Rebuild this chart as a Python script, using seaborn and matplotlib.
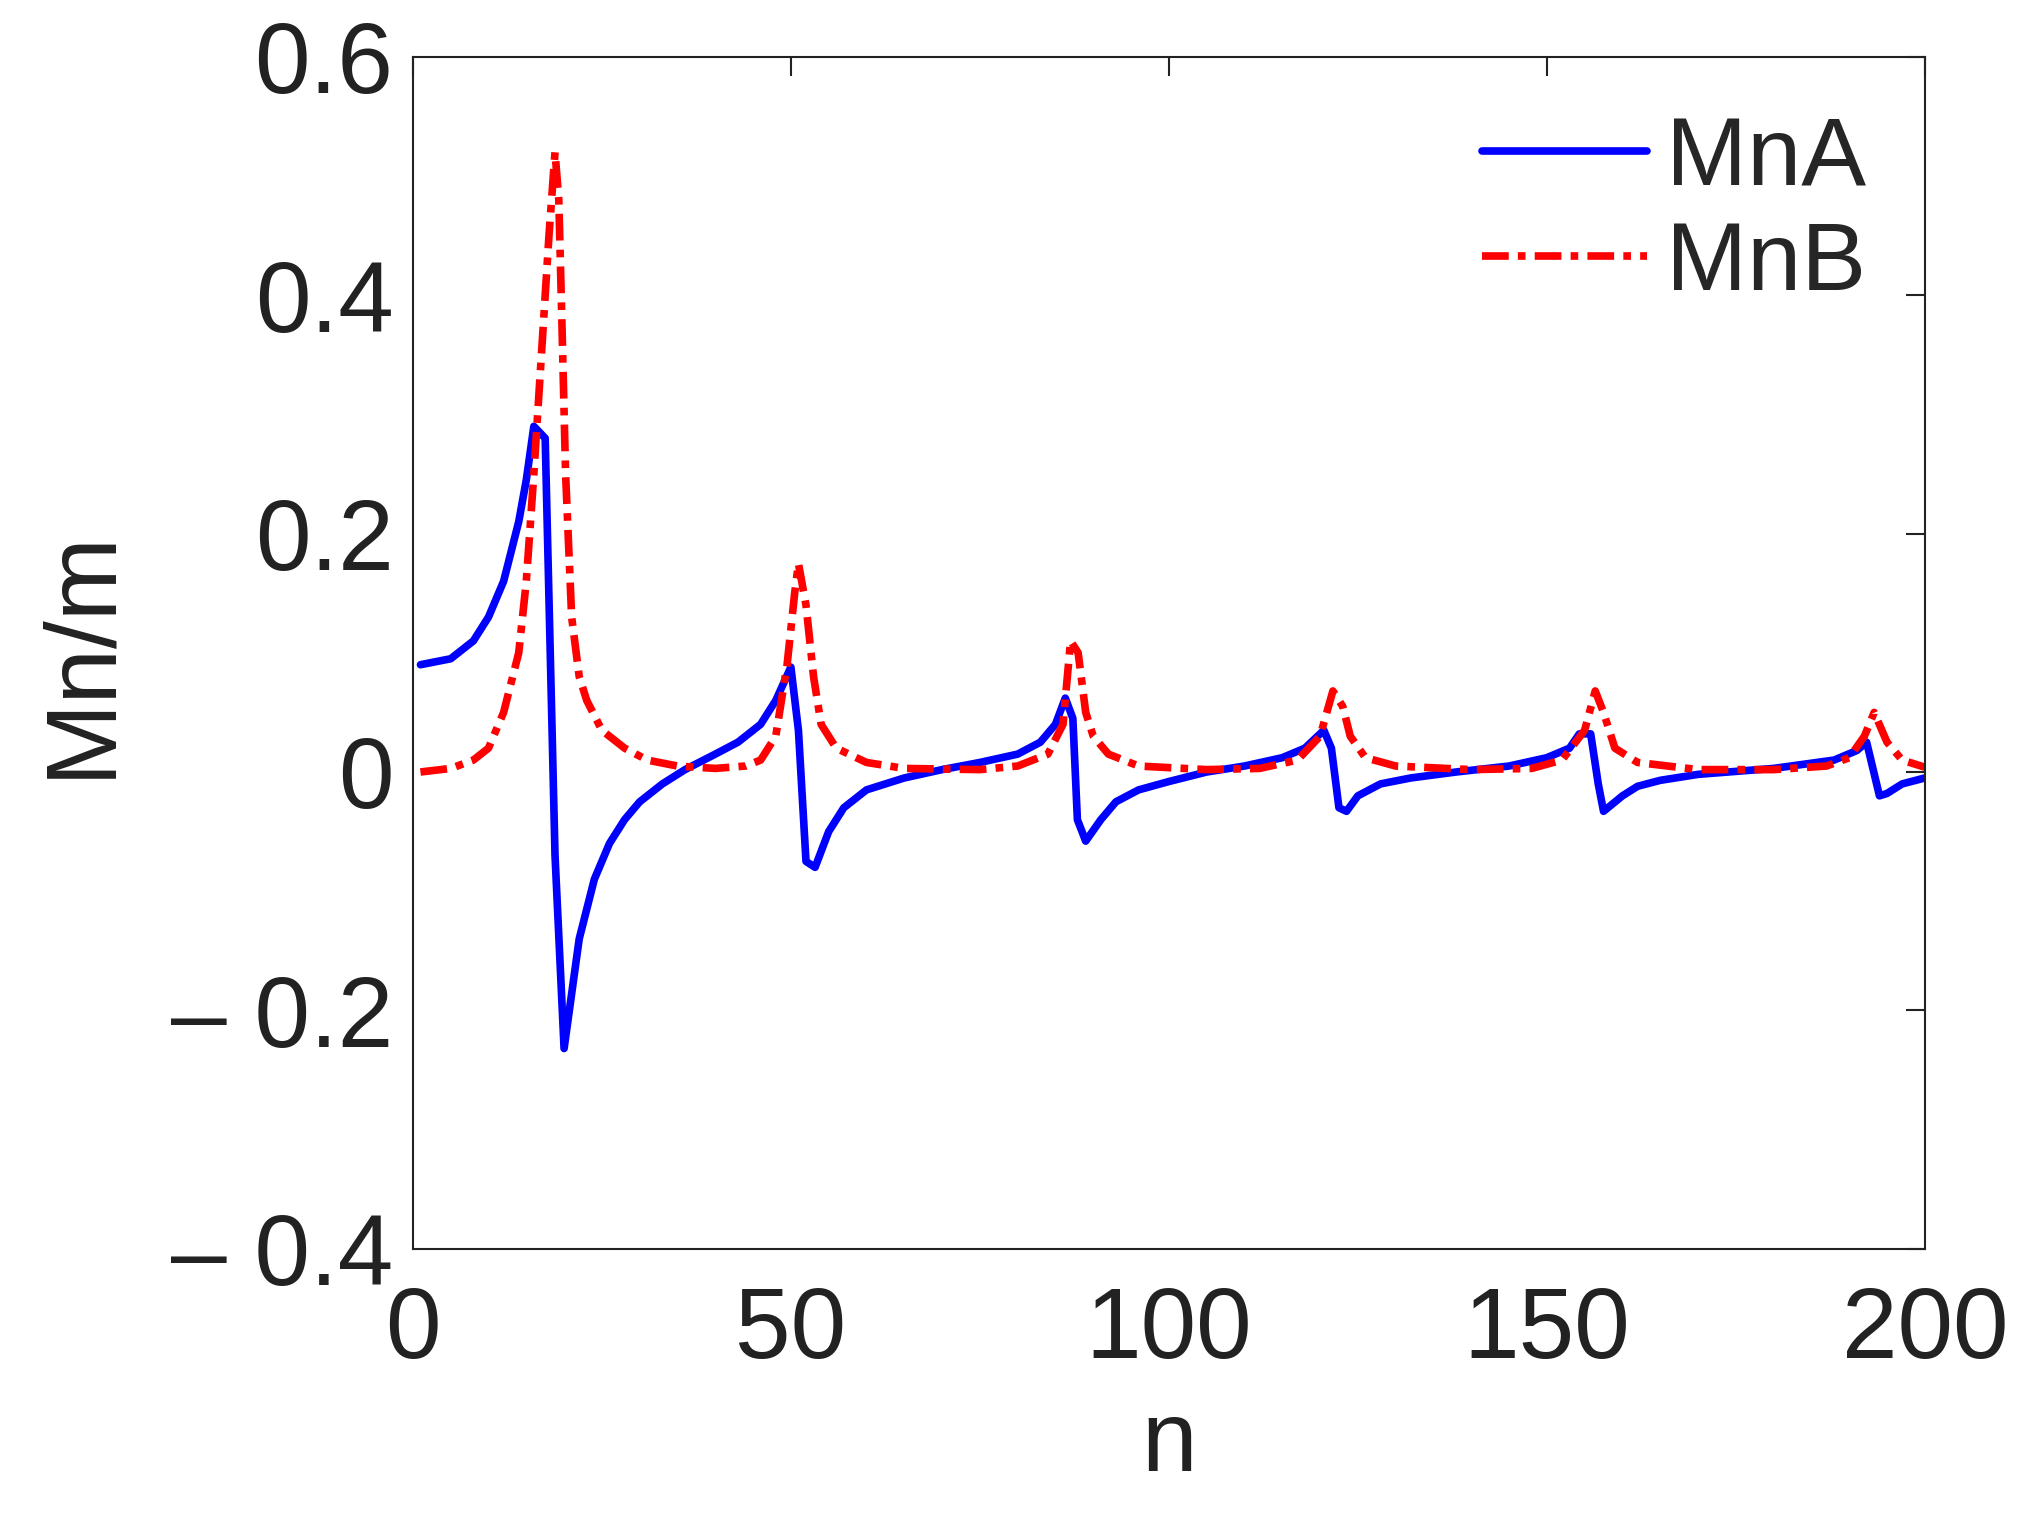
import numpy as np
import pandas as pd
import seaborn as sns
import matplotlib.pyplot as plt

# MnA (blue, solid)
n_a = [1, 5, 8, 10, 12, 14, 15, 16, 17.5, 18.8, 20, 22, 24, 26, 28, 30, 33, 36, 40, 43, 46, 48,
       50, 51, 52, 53.2, 55, 57, 60, 65, 70, 75, 80, 83, 85, 86.3, 87.3, 87.9, 89, 91, 93, 96,
       100, 105, 110, 115, 118, 120.5, 121.5, 122.5, 123.5, 125, 128, 132, 138, 145, 150, 153,
       154.3, 155.8, 156.8, 157.5, 160, 162, 165, 170, 180, 188, 191, 192.3, 194, 195, 197, 200]
mn_a = [0.09, 0.095, 0.11, 0.13, 0.16, 0.21, 0.245, 0.29, 0.28, -0.07, -0.232, -0.14, -0.09,
        -0.06, -0.04, -0.025, -0.01, 0.002, 0.015, 0.025, 0.04, 0.06, 0.088, 0.035, -0.075,
        -0.08, -0.05, -0.03, -0.015, -0.005, 0.002, 0.008, 0.015, 0.025, 0.04, 0.062, 0.045,
        -0.04, -0.058, -0.04, -0.025, -0.015, -0.008, 0.0, 0.005, 0.012, 0.02, 0.035, 0.02,
        -0.03, -0.033, -0.02, -0.01, -0.005, 0.0, 0.005, 0.012, 0.02, 0.032, 0.032, -0.01,
        -0.033, -0.02, -0.012, -0.007, -0.002, 0.003, 0.01, 0.018, 0.025, -0.02, -0.018, -0.01,
        -0.005]

# MnB (red, dash-dot)
n_b = [1, 5, 8, 10, 12, 14, 15, 16, 17, 18, 18.8, 19.3, 19.7, 20.2, 21, 22, 23, 25, 28, 31, 35,
       40, 44, 46, 48, 49.5, 50.5, 51, 52, 53, 54, 56, 60, 65, 75, 80, 84, 86, 87, 88, 89, 90,
       92, 96, 105, 112, 117, 120, 121.7, 123, 124, 126, 130, 140, 148, 152, 155, 156.4, 157.5,
       159, 162, 170, 180, 187, 190, 192, 193.3, 195, 197, 200]
mn_b = [0.0, 0.003, 0.01, 0.02, 0.05, 0.1, 0.16, 0.25, 0.35, 0.45, 0.52, 0.48, 0.38, 0.25, 0.13,
        0.08, 0.06, 0.035, 0.02, 0.01, 0.005, 0.003, 0.005, 0.01, 0.03, 0.09, 0.15, 0.175, 0.14,
        0.08, 0.04, 0.02, 0.008, 0.003, 0.002, 0.005, 0.015, 0.04, 0.11, 0.1, 0.05, 0.03, 0.015,
        0.005, 0.002, 0.003, 0.01, 0.03, 0.068, 0.055, 0.03, 0.012, 0.005, 0.002, 0.003, 0.01,
        0.035, 0.068, 0.05, 0.02, 0.008, 0.002, 0.002, 0.005, 0.012, 0.03, 0.05, 0.025, 0.01,
        0.004]

sns.set_style("white")
plt.rcParams['font.family'] = ['Liberation Sans', 'DejaVu Sans']

fig = plt.figure(figsize=(20.24, 15.36), dpi=100)
ax = fig.add_axes([0.204, 0.187, 0.747, 0.776])

sns.lineplot(x=n_a, y=mn_a, ax=ax, color='#0000ff', lw=5.5, label='MnA')
sns.lineplot(x=n_b, y=mn_b, ax=ax, color='#ff0000', lw=5.5, label='MnB')
ax.lines[1].set_dashes([3.5, 1.2, 1, 1.2])

ax.set_xlim(0, 200)
ax.set_ylim(-0.4, 0.6)
ax.set_xticks([0, 50, 100, 150, 200])
ax.set_yticks([-0.4, -0.2, 0, 0.2, 0.4, 0.6])
ax.set_yticklabels(['\u2013 0.4', '\u2013 0.2', '0', '0.2', '0.4', '0.6'])
ax.tick_params(direction='in', length=14, width=1.5, labelsize=72, colors='#222222',
               top=True, right=True, pad=14)
ax.tick_params(axis='x', pad=26)
for s in ax.spines.values():
    s.set_color('#222222')
    s.set_linewidth(1.5)
ax.set_xlabel('n', fontsize=72, color='#222222', labelpad=14)
ax.set_ylabel('Mn/m', fontsize=72, color='#222222', labelpad=30)

leg = ax.legend(loc='upper right', fontsize=70, frameon=False, handlelength=1.7,
                handletextpad=0.2, labelspacing=0.15, borderaxespad=0.2)

plt.savefig('out.png', dpi=100)
